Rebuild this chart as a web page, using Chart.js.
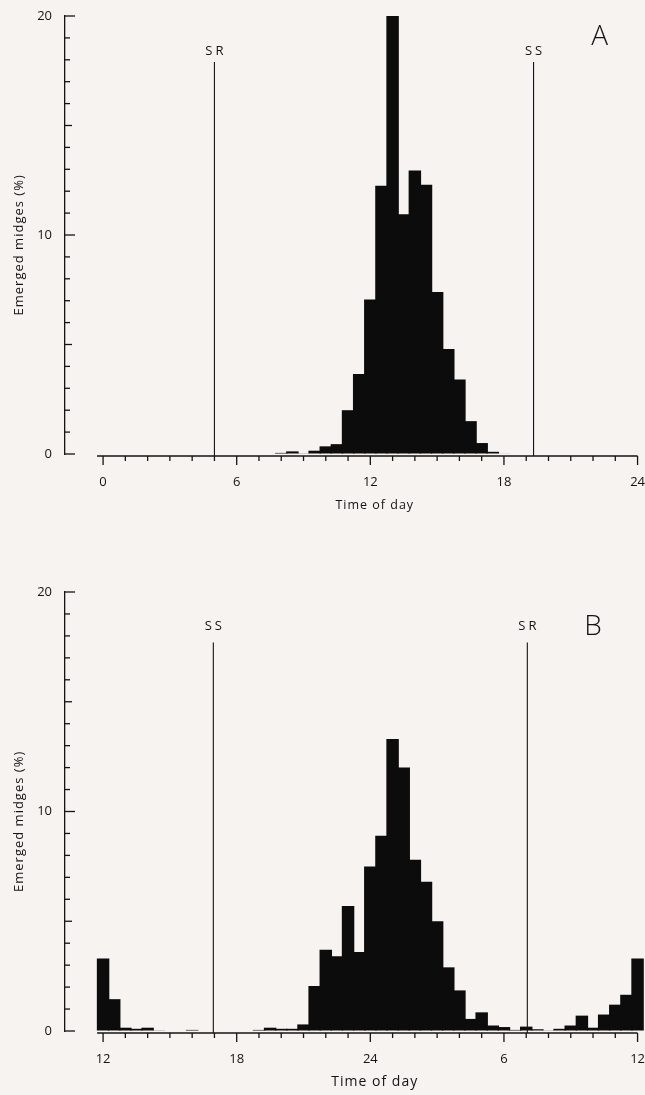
<!DOCTYPE html>
<html>
<head>
<meta charset="utf-8">
<script src="https://cdn.jsdelivr.net/npm/chart.js@4.4.1/dist/chart.umd.min.js"></script>
<style>
    html, body { margin: 0; padding: 0; background: #f6f3f0; }
    #panelA { position: absolute; left: 0; top: 0; width: 645px; height: 540px; }
    #panelB { position: absolute; left: 0; top: 560px; width: 645px; height: 535px; }
</style>
</head>
<body>
<div id="panelA"><canvas id="graficaA"></canvas></div>
<div id="panelB"><canvas id="graficaB"></canvas></div>
<script>
// A: emergence in half-hour bins (bin centre, hour of day)
const hoursA = [8, 8.5, 9, 9.5, 10, 10.5, 11, 11.5, 12, 12.5, 13, 13.5, 14, 14.5, 15, 15.5, 16, 16.5, 17, 17.5, 18];
const emergedA = [0.05, 0.12, 0.03, 0.15, 0.35, 0.45, 2.0, 3.65, 7.05, 12.25, 20.0, 10.95, 12.95, 12.3, 7.4, 4.8, 3.4, 1.5, 0.5, 0.1, 0.02];
const ticksA = [0, 6, 12, 18, 24];
const tickLabelsA = ['0', '6', '12', '18', '24'];
const sunA = [5.0, 19.33];
const sunLabelsA = ['SR', 'SS'];

// B: noon to noon (hours after midnight of day 1)
const hoursB = [12, 12.5, 13, 13.5, 14, 14.5, 15, 15.5, 16, 16.5, 17, 17.5, 18, 18.5, 19, 19.5, 20, 20.5,
    21, 21.5, 22, 22.5, 23, 23.5, 24, 24.5, 25, 25.5, 26, 26.5, 27, 27.5, 28, 28.5, 29, 29.5,
    30, 30.5, 31, 31.5, 32, 32.5, 33, 33.5, 34, 34.5, 35, 35.5, 36];
const emergedB = [3.3, 1.45, 0.15, 0.1, 0.15, 0.03, 0, 0, 0.05, 0, 0, 0, 0, 0, 0.05, 0.15, 0.1, 0.1,
    0.3, 2.05, 3.7, 3.4, 5.7, 3.6, 7.5, 8.9, 13.3, 12.0, 7.8, 6.8, 5.0, 2.9, 1.85, 0.55, 0.85, 0.25,
    0.18, 0.05, 0.2, 0.08, 0.03, 0.1, 0.25, 0.7, 0.15, 0.75, 1.2, 1.65, 3.3];
const ticksB = [12, 18, 24, 30, 36];
const tickLabelsB = ['12', '18', '24', '6', '12'];
const sunB = [16.95, 31.05];
const sunLabelsB = ['SS', 'SR'];

const yTicks = [0, 10, 20];

const FUENTE = '"Open Sans", "DejaVu Sans", sans-serif';
const TINTA = '#141414';

// Axis lines, tick marks, sun lines and texts drawn on top of the chart
const ejesPlugin = {
    id: 'ejes',
    afterDraw(chart, args, o) {
        const ctx = chart.ctx;
        const xs = chart.scales.x;
        const ys = chart.scales.y;
        const left = chart.chartArea.left;
        const y0 = ys.getPixelForValue(0);
        const ejeY = y0 + 2;

        ctx.save();
        ctx.strokeStyle = TINTA;
        ctx.fillStyle = TINTA;
        ctx.lineWidth = 1.3;

        // y tick marks, pointing into the plot
        for (let v = 0; v <= 20; v++) {
            const py = ys.getPixelForValue(v);
            const len = v % 10 === 0 ? 10 : (v % 5 === 0 ? 7 : 5);
            ctx.beginPath();
            ctx.moveTo(left, py);
            ctx.lineTo(left + len, py);
            ctx.stroke();
        }

        // x axis line with hourly ticks
        ctx.beginPath();
        ctx.moveTo(xs.getPixelForValue(o.desde), ejeY);
        ctx.lineTo(xs.getPixelForValue(o.hasta), ejeY);
        ctx.stroke();
        for (let h = o.primera; h <= o.hasta; h++) {
            const px = xs.getPixelForValue(h);
            const len = (h - o.primera) % 6 === 0 ? 9 : 5;
            ctx.beginPath();
            ctx.moveTo(px, ejeY);
            ctx.lineTo(px, ejeY + len);
            ctx.stroke();
        }

        // sunrise / sunset
        ctx.lineWidth = 1.1;
        ctx.font = '13px ' + FUENTE;
        ctx.textAlign = 'center';
        ctx.textBaseline = 'middle';
        ctx.letterSpacing = '3px';
        const topSol = ys.getPixelForValue(o.solTop);
        o.sol.forEach((h, i) => {
            const px = xs.getPixelForValue(h);
            ctx.beginPath();
            ctx.moveTo(px, topSol);
            ctx.lineTo(px, ejeY);
            ctx.stroke();
            ctx.fillText(o.solEtiquetas[i], px + 1.5, topSol - o.solGap);
        });

        // panel letter
        ctx.letterSpacing = '0px';
        ctx.font = '300 28px ' + FUENTE;
        ctx.fillText(o.letra, xs.getPixelForValue(o.letraX), ys.getPixelForValue(o.letraY));

        // axis titles
        ctx.font = o.tituloFuente + ' ' + FUENTE;
        ctx.letterSpacing = '1px';
        ctx.fillText('Time of day', xs.getPixelForValue(o.primera + 12.2), y0 + 51);

        ctx.font = '13px ' + FUENTE;
        ctx.translate(19, ys.getPixelForValue(9.55));
        ctx.rotate(-Math.PI / 2);
        ctx.fillText('Emerged midges (%)', 0, 0);

        ctx.restore();
    }
};

function crearPanel(canvasId, horas, valores, ticks, etiquetas, sol, solEtiquetas, p) {
    const ctx = document.getElementById(canvasId).getContext('2d');

    return new Chart(ctx, {
        type: 'bar',
        data: {
            datasets: [{
                data: horas.map((h, i) => ({ x: h, y: valores[i] })),
                backgroundColor: '#0c0c0c',
                borderWidth: 0,
                barPercentage: 1.12,   // slight overlap, no seams between bins
                categoryPercentage: 1,
                clip: false
            }]
        },
        options: {
            responsive: true,
            maintainAspectRatio: false,
            animation: false,
            layout: { padding: { top: p.top, right: 0, bottom: 0, left: 0 } },
            plugins: {
                legend: { display: false },
                tooltip: { enabled: false },
                ejes: {
                    desde: p.desde, primera: ticks[0], hasta: ticks[ticks.length - 1],
                    sol: sol, solEtiquetas: solEtiquetas, solTop: p.solTop, solGap: p.solGap,
                    letra: p.letra, letraX: p.letraX, letraY: p.letraY,
                    tituloFuente: p.tituloFuente
                }
            },
            scales: {
                x: {
                    type: 'linear',
                    min: p.min,
                    max: p.max,
                    offset: false,
                    grid: { display: true, drawOnChartArea: false, drawTicks: true, tickLength: 20, color: 'transparent', tickColor: 'transparent' },
                    border: { display: false },
                    afterBuildTicks: s => { s.ticks = ticks.map(v => ({ value: v })); },
                    afterFit: s => { s.height = p.xAlto; },
                    ticks: {
                        padding: 0,
                        autoSkip: false,
                        maxRotation: 0,
                        color: TINTA,
                        font: { family: FUENTE, size: 13 },
                        callback: (v, i) => etiquetas[i]
                    }
                },
                y: {
                    min: 0,
                    max: 20,
                    grid: { display: true, drawOnChartArea: false, drawTicks: true, tickLength: 13, color: 'transparent', tickColor: 'transparent' },
                    border: { display: true, color: TINTA, width: 1.3 },
                    afterBuildTicks: s => { s.ticks = yTicks.map(v => ({ value: v })); },
                    afterFit: s => { s.width = 65; },
                    ticks: {
                        padding: 0,
                        color: TINTA,
                        font: { family: FUENTE, size: 13 },
                        callback: v => String(v)
                    }
                }
            }
        },
        plugins: [ejesPlugin]
    });
}

crearPanel('graficaA', hoursA, emergedA, ticksA, tickLabelsA, sunA, sunLabelsA, {
    top: 16, xAlto: 86, min: -1.71, max: 24, desde: -0.27,
    solTop: 17.9, solGap: 11, letra: 'A', letraX: 22.3, letraY: 19.05, tituloFuente: '12.5px'
});

crearPanel('graficaB', hoursB, emergedB, ticksB, tickLabelsB, sunB, sunLabelsB, {
    top: 32, xAlto: 64, min: 10.29, max: 36, desde: 11.73,
    solTop: 17.7, solGap: 16, letra: 'B', letraX: 34.0, letraY: 18.4, tituloFuente: '14px'
});
</script>
</body>
</html>
